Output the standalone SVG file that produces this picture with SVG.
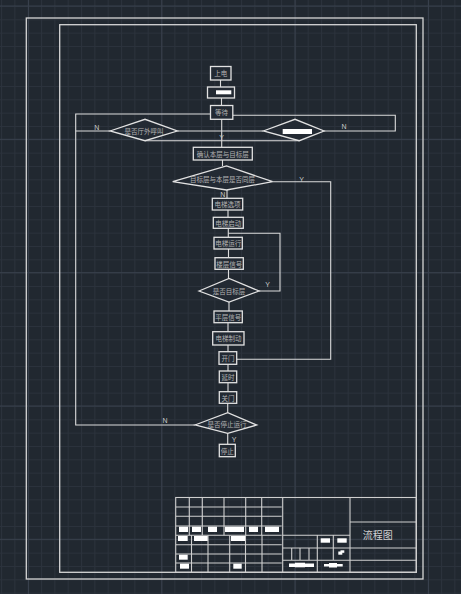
<svg xmlns="http://www.w3.org/2000/svg" width="461" height="594" viewBox="0 0 461 594">
<style>
.g1{stroke:#2b323c;stroke-width:1}
.g2{stroke:#38404c;stroke-width:1}
.fr{fill:none;stroke:#d6d6d6;stroke-width:1.3}
.ln{fill:none;stroke:#dcdcdc;stroke-width:1.1}
.bx{fill:#232a33;stroke:#e2e2e2;stroke-width:1.3}
.tb{fill:none;stroke:#cfcfcf;stroke-width:1.1}
.rd{fill:#ffffff;stroke:none}
.t{font-family:"Noto Sans CJK SC","Noto Sans",sans-serif;font-size:6.5px;fill:#b4b4b4;text-anchor:middle;dominant-baseline:central}
.lb{font-family:"Liberation Sans",sans-serif;font-size:7px;fill:#c8c8c8;text-anchor:middle;dominant-baseline:central}
.ti{font-family:"Noto Sans CJK SC",sans-serif;font-size:10px;fill:#d0d0d0;text-anchor:middle;dominant-baseline:central}
</style>
<defs>
<pattern id="minor" width="13.333" height="13.333" patternUnits="userSpaceOnUse" x="1" y="6">
<path d="M0.5 0V13.333M0 0.5H13.333" class="g1" fill="none"/>
</pattern>
<pattern id="major" width="133.33" height="133.33" patternUnits="userSpaceOnUse" x="28" y="5.5">
<path d="M0.5 0V133.33M0 0.5H133.33" class="g2" fill="none"/>
</pattern>
</defs>
<rect width="461" height="594" fill="#212830"/>
<rect width="461" height="594" fill="url(#minor)"/>
<rect width="461" height="594" fill="url(#major)"/>

<g id="frame">
<rect class="fr" x="26.3" y="18" width="396.7" height="561"/>
<rect class="fr" x="59.7" y="24.7" width="356.6" height="547.6"/>
</g>

<g id="connectors">
<path class="ln" d="M220.5 80V87"/>
<path class="ln" d="M221.5 98V105.5"/>
<path class="ln" d="M221.7 119.3V147.3"/>
<path class="ln" d="M177.3 131H263.3"/>
<path class="ln" d="M145 140.7H299.3"/>
<path class="ln" d="M210.5 114H75.7V425H195"/>
<path class="ln" d="M110 131H75.7"/>
<path class="ln" d="M232.8 115.3H395.3V131H324"/>
<path class="ln" d="M222.5 160V166"/>
<path class="ln" d="M227 190V198.3"/>
<path class="ln" d="M228 210V217.3"/>
<path class="ln" d="M228.3 228.3V237.3"/>
<path class="ln" d="M228.3 233.3H280V291H259"/>
<path class="ln" d="M228.5 249V257.7"/>
<path class="ln" d="M228.5 269.3V278.5"/>
<path class="ln" d="M229 302V311"/>
<path class="ln" d="M228 322.7V331.7"/>
<path class="ln" d="M228 345V351.7"/>
<path class="ln" d="M272.7 181.7H330.7V359.3H236.7"/>
<path class="ln" d="M228 364.3V371"/>
<path class="ln" d="M228 382.7V391.7"/>
<path class="ln" d="M227.7 403.3V412.7"/>
<path class="ln" d="M227.7 433.3V444.3"/>
<text class="lb" x="96.7" y="127.7">N</text>
<text class="lb" x="344" y="126.7">N</text>
<text class="lb" x="221.7" y="137.3">Y</text>
<text class="lb" x="301.7" y="179">Y</text>
<text class="lb" x="222.7" y="194.3">N</text>
<text class="lb" x="267.7" y="284.3">Y</text>
<text class="lb" x="165" y="420.7">N</text>
<text class="lb" x="234" y="439.3">Y</text>
</g>

<g id="n1"><rect class="bx" x="210.5" y="66.5" width="20.5" height="13.5"/><text class="t" x="220.7" y="73.3">上电</text></g>
<g id="n2"><rect class="bx" x="207.5" y="87" width="27" height="11"/><rect class="rd" x="216" y="90.3" width="15.3" height="4"/></g>
<g id="n3"><rect class="bx" x="210.5" y="105.5" width="22.3" height="13.8"/><text class="t" x="221.6" y="112.4">等待</text></g>
<g id="d1"><polygon class="bx" points="110,131 145,119.3 177.3,131 145,140.7"/><text class="t" x="144" y="130.5">是否厅外呼叫</text></g>
<g id="d2"><polygon class="bx" points="263.3,131 295,119.3 324,131 299.3,140.7"/><rect class="rd" x="282.7" y="129" width="29.3" height="5"/></g>
<g id="n4"><rect class="bx" x="193.3" y="147.3" width="59" height="12.7"/><text class="t" x="222.8" y="153.7">确认本层与目标层</text></g>
<g id="d3"><polygon class="bx" points="172.7,181.7 226.5,166 272.7,181.7 226.5,190"/><text class="t" x="222.5" y="178.5">目标层与本层是否同层</text></g>
<g id="n5"><rect class="bx" x="212.3" y="198.3" width="30.4" height="11.7"/><text class="t" x="227.5" y="204.2">电梯选项</text></g>
<g id="n6"><rect class="bx" x="213.3" y="217.3" width="30" height="11"/><text class="t" x="228.3" y="222.8">电梯启动</text></g>
<g id="n7"><rect class="bx" x="214" y="237.3" width="28.3" height="11.7"/><text class="t" x="228.2" y="243.2">电梯运行</text></g>
<g id="n8"><rect class="bx" x="215" y="257.7" width="28.3" height="11.6"/><text class="t" x="229.2" y="263.5">楼层信号</text></g>
<g id="d4"><polygon class="bx" points="199,291 229,278.5 259,291 229,302"/><text class="t" x="229" y="290.5">是否目标层</text></g>
<g id="n9"><rect class="bx" x="214" y="311" width="28.3" height="11.7"/><text class="t" x="228.2" y="316.9">平层信号</text></g>
<g id="n10"><rect class="bx" x="212.7" y="331.7" width="31.3" height="13.3"/><text class="t" x="228.4" y="338.4">电梯制动</text></g>
<g id="n11"><rect class="bx" x="219" y="351.7" width="17.7" height="12.6"/><text class="t" x="227.9" y="358">开门</text></g>
<g id="n12"><rect class="bx" x="219.3" y="371" width="17.4" height="11.7"/><text class="t" x="228" y="376.9">延时</text></g>
<g id="n13"><rect class="bx" x="219.3" y="391.7" width="17.4" height="11.6"/><text class="t" x="228" y="397.5">关门</text></g>
<g id="d5"><polygon class="bx" points="195,425 227.7,412.7 256.7,425 227.7,433.3"/><text class="t" x="227" y="424.3">是否停止运行</text></g>
<g id="n14"><rect class="bx" x="219.3" y="444.3" width="16" height="12.4"/><text class="t" x="227.3" y="450.5">停止</text></g>

<g id="titleblock">
<rect class="tb" x="175.7" y="497.5" width="240.6" height="74.8"/>
<path class="tb" d="M282.7 497.5V572.3M350 497.5V572.3"/>
<path class="tb" d="M350 522H416.3M350 548H416.3M350 560.3H416.3"/>
<path class="tb" d="M282.7 535.3H350M282.7 548H350M282.7 560.3H350M317.3 535.3V572.3M333.3 535.3V560.3M291.7 548V560.3M300 548V560.3M309 548V560.3"/>
<path class="tb" d="M176 507H281.7M176 516.3H281.7M176 526H281.7M176 535.3H281.7M176 544.7H281.7M176 554H281.7M176 563H281.7"/>
<path class="tb" d="M189.3 497.5V535.3M202.3 497.5V535.3M224 497.5V535.3M245.7 497.5V535.3M261.7 497.5V535.3"/>
<path class="tb" d="M191.5 535.3V572.3M208 535.3V572.3M229.7 535.3V572.3M245.5 535.3V572.3M262 535.3V572.3"/>
<rect class="rd" x="179" y="526.7" width="9" height="5.3"/>
<rect class="rd" x="192" y="526.7" width="9" height="5.3"/>
<rect class="rd" x="208" y="526.7" width="9" height="5.3"/>
<rect class="rd" x="225" y="526.7" width="19" height="5.3"/>
<rect class="rd" x="249" y="526.7" width="9" height="5.3"/>
<rect class="rd" x="265" y="526.7" width="14" height="5.3"/>
<rect class="rd" x="178" y="536" width="9.7" height="5"/>
<rect class="rd" x="194" y="536" width="13.7" height="5"/>
<rect class="rd" x="231" y="536" width="14" height="5"/>
<rect class="rd" x="179" y="554.7" width="8.7" height="5"/>
<rect class="rd" x="180" y="563.7" width="9" height="5"/>
<rect class="rd" x="233.3" y="563.7" width="8.4" height="5"/>
<rect class="rd" x="320.7" y="538.3" width="9.3" height="4.4"/>
<rect class="rd" x="337.3" y="538.3" width="9.4" height="4.4"/>
<rect class="rd" x="338.3" y="551.5" width="4" height="3.2"/>
<rect class="rd" x="340.5" y="550.3" width="3.8" height="2.5"/>
<rect class="rd" x="289" y="563.5" width="25" height="3.5"/>
<rect class="rd" x="295" y="562.7" width="10" height="4.6"/>
<rect class="rd" x="324" y="564" width="18.7" height="2.5"/>
<rect class="rd" x="329" y="563" width="8" height="4.5"/>
<text class="ti" x="377.7" y="534.3">流程图</text>
</g>
</svg>
